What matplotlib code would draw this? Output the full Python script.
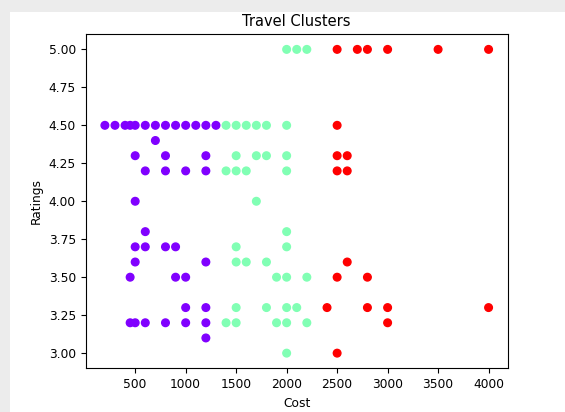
import matplotlib.pyplot as plt
from matplotlib.patches import Rectangle

# cluster 0 (purple)
cost_0 = [200, 300, 400, 450, 500, 600, 700, 800, 900, 1000, 1100, 1200, 1300,
          700,
          500, 800, 1200,
          600, 800, 1000, 1200,
          500,
          600,
          500, 600, 800, 900,
          500, 1200,
          450, 900, 1000,
          1000, 1200,
          450, 500, 600, 800, 1000, 1200,
          1200]
rating_0 = [4.5] * 13 + [4.4] + [4.3] * 3 + [4.2] * 4 + [4.0] + [3.8] + [3.7] * 4 + \
           [3.6] * 2 + [3.5] * 3 + [3.3] * 2 + [3.2] * 6 + [3.1]

# cluster 1 (green)
cost_1 = [2000, 2100, 2200,
          1400, 1500, 1600, 1700, 1800, 2000,
          1500, 1700, 1800, 2000,
          1400, 1500, 1600, 2000,
          1700,
          2000,
          1500, 2000,
          1500, 1600, 1800,
          1900, 2000, 2200,
          1500, 1800, 2000, 2100,
          1400, 1500, 1900, 2000, 2200,
          2000]
rating_1 = [5.0] * 3 + [4.5] * 6 + [4.3] * 4 + [4.2] * 4 + [4.0] + [3.8] + [3.7] * 2 + \
           [3.6] * 3 + [3.5] * 3 + [3.3] * 4 + [3.2] * 5 + [3.0]

# cluster 2 (red)
cost_2 = [2500, 2700, 2800, 3000, 3500, 4000,
          2500,
          2500, 2600,
          2500, 2600,
          2600,
          2500, 2800,
          2400, 2800, 3000, 4000,
          3000,
          2500]
rating_2 = [5.0] * 6 + [4.5] + [4.3] * 2 + [4.2] * 2 + [3.6] + [3.5] * 2 + [3.3] * 4 + \
           [3.2] + [3.0]

cost = cost_0 + cost_1 + cost_2
rating = rating_0 + rating_1 + rating_2
labels = [0] * len(cost_0) + [1] * len(cost_1) + [2] * len(cost_2)

plt.rcParams['font.size'] = 8.8

fig = plt.figure(figsize=(5.65, 4.12), dpi=100, facecolor='#ececec')
# white card behind the plot, like the screenshot
fig.patches.append(Rectangle((0.018, 0.0), 0.982, 0.97, transform=fig.transFigure,
                             facecolor='white', edgecolor='none', zorder=-10))
ax = fig.add_axes([0.1517, 0.106, 0.747, 0.811])
ax.set_zorder(1)

ax.scatter(cost, rating, c=labels, cmap='rainbow', s=30)
ax.set_title('Travel Clusters', fontsize=10.5)
ax.set_xlabel('Cost')
ax.set_ylabel('Ratings')

plt.savefig('out.png', dpi=100)
